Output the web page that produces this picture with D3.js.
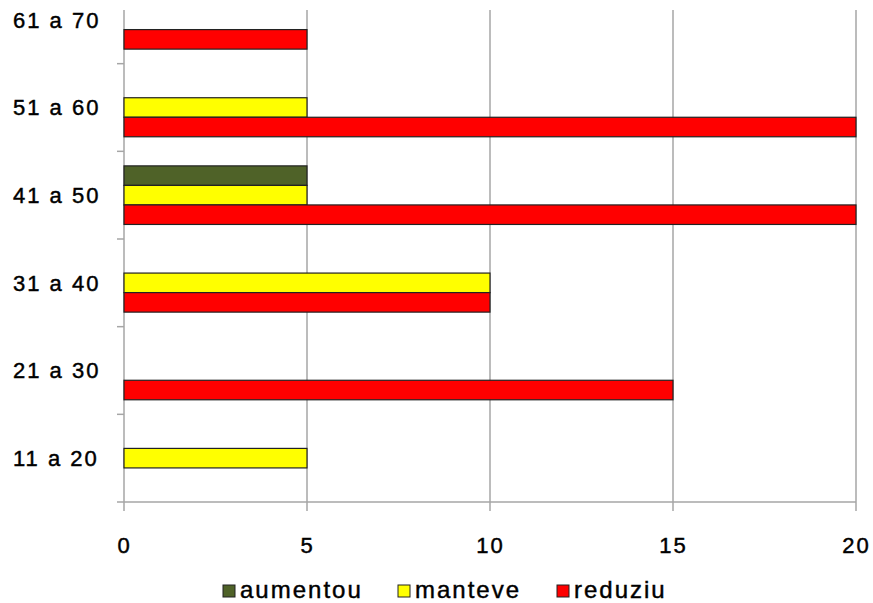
<!DOCTYPE html>
<html>
<head>
<meta charset="utf-8">
<script src="https://cdn.jsdelivr.net/npm/d3@7"></script>
<style>
  body { margin: 0; background: #fff; }
  svg { display: block; }
  text { font-family: Arial, "Liberation Sans", sans-serif; fill: #000; stroke: #000; stroke-width: 0.45px; }
</style>
</head>
<body>
<svg id="chart" width="873" height="603"></svg>
<script>
// faixas etarias, de baixo para cima
const faixas = ["11 a 20", "21 a 30", "31 a 40", "41 a 50", "51 a 60", "61 a 70"];
const series = ["aumentou", "manteve", "reduziu"];
const aumentou = [0, 0, 0, 5, 0, 0];
const manteve  = [5, 0, 10, 5, 5, 0];
const reduziu  = [0, 15, 10, 20, 20, 5];
const xTicks = [0, 5, 10, 15, 20];
const colors = ["#4f6228", "#ffff00", "#ff0000"];

const valores = { aumentou: aumentou, manteve: manteve, reduziu: reduziu };

let svg = d3.select("#chart");
let plotLeft = 124, plotRight = 856, plotTop = -24, plotBottom = 502;

let x = d3.scaleLinear().domain([0, 20]).range([plotLeft, plotRight]);
let y = d3.scaleBand().domain(faixas.slice().reverse()).range([plotTop, plotBottom]);
let yInner = d3.scaleBand().domain(series).range([0, y.bandwidth()]).paddingOuter(0.745);
let color = d3.scaleOrdinal().domain(series).range(colors);

// grid
svg.append("g").selectAll("line")
    .data(xTicks)
    .enter().append("line")
    .attr("x1", d => x(d)).attr("x2", d => x(d))
    .attr("y1", 10).attr("y2", plotBottom + 9)
    .attr("stroke", "#a6a6a6").attr("stroke-width", 1.5);

// bottom axis line
svg.append("line")
    .attr("x1", plotLeft - 7).attr("x2", plotRight)
    .attr("y1", plotBottom).attr("y2", plotBottom)
    .attr("stroke", "#a6a6a6").attr("stroke-width", 1.5);

// left ticks between categories
svg.append("g").selectAll("line")
    .data(faixas.slice(0, faixas.length - 1))
    .enter().append("line")
    .attr("x1", plotLeft - 7).attr("x2", plotLeft)
    .attr("y1", d => y(d)).attr("y2", d => y(d))
    .attr("stroke", "#a6a6a6").attr("stroke-width", 1.5);

// x tick labels
let xAxis = svg.append("g")
    .attr("transform", "translate(0," + plotBottom + ")")
    .call(d3.axisBottom(x).tickValues(xTicks).tickSize(0).tickPadding(35));
xAxis.select(".domain").remove();
xAxis.attr("font-family", null).attr("font-size", null);
xAxis.selectAll("text")
    .attr("font-size", "22px")
    .attr("letter-spacing", "2px")
    .attr("fill", "#000");

// category labels
svg.append("g").selectAll("text")
    .data(faixas)
    .enter().append("text")
    .attr("x", 13)
    .attr("y", d => y(d) + y.bandwidth() / 2)
    .attr("dy", "0.36em")
    .attr("font-size", "22px")
    .attr("letter-spacing", "2px")
    .text(d => d);

// bars
let groups = svg.append("g").selectAll("g")
    .data(faixas)
    .enter().append("g")
    .attr("transform", d => "translate(0," + y(d) + ")");

groups.selectAll("rect")
    .data((d, i) => series.map(s => ({ serie: s, valor: valores[s][i] })).filter(o => o.valor > 0))
    .enter().append("rect")
    .attr("x", x(0))
    .attr("y", d => yInner(d.serie))
    .attr("width", d => x(d.valor) - x(0))
    .attr("height", yInner.bandwidth())
    .attr("fill", d => color(d.serie))
    .attr("stroke", "#222")
    .attr("stroke-width", 1.2);

// legend
let legendX = [223, 398, 557];
let legend = svg.append("g").selectAll("g")
    .data(series)
    .enter().append("g")
    .attr("transform", (d, i) => "translate(" + legendX[i] + ",585)");

legend.append("rect")
    .attr("width", 12).attr("height", 12)
    .attr("fill", d => color(d))
    .attr("stroke", "#222").attr("stroke-width", 1);

legend.append("text")
    .attr("x", 17).attr("y", 13)
    .attr("font-size", "24px")
    .attr("letter-spacing", "2px")
    .text(d => d);
</script>
</body>
</html>
